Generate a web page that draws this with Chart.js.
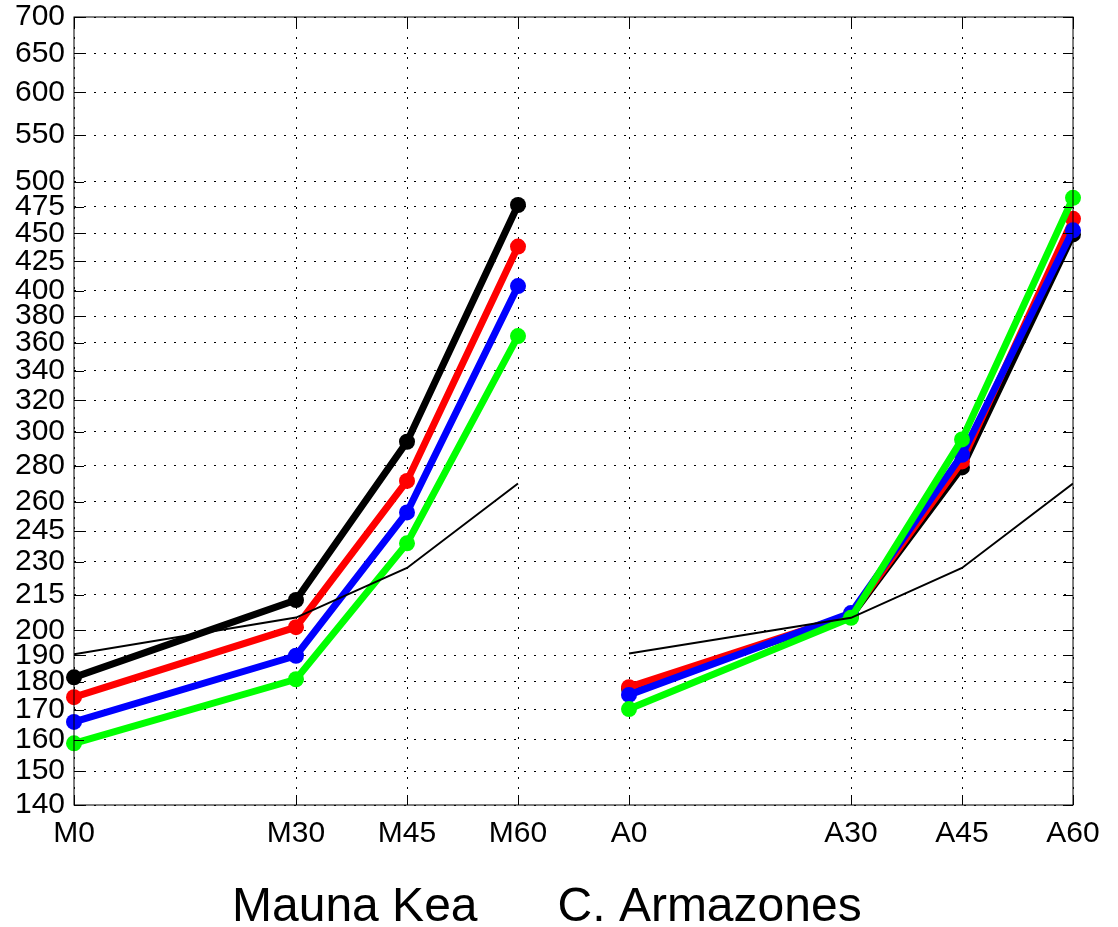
<!DOCTYPE html>
<html>
<head>
<meta charset="utf-8">
<script src="https://cdn.jsdelivr.net/npm/chart.js@4.4.1/dist/chart.umd.min.js"></script>
<style>
  html, body { margin: 0; padding: 0; background: #fff; }
  #wrap { width: 1118px; height: 927px; position: relative; }
</style>
</head>
<body>
<div id="wrap"><canvas id="chart"></canvas></div>
<script>
// x positions (zenith angle, the two sites laid side by side) and their labels
const tickPositions = [0, 30, 45, 60, 75, 105, 120, 135];
const siteLabels = ['M0', 'M30', 'M45', 'M60', 'A0', 'A30', 'A45', 'A60'];
const yTicks = [140, 150, 160, 170, 180, 190, 200, 215, 230, 245, 260, 280, 300,
  320, 340, 360, 380, 400, 425, 450, 475, 500, 550, 600, 650, 700];

// series values, Mauna Kea first four, C. Armazones last four
const blackValues = [181.7, 212.8, 294, 476.8, 177.5, 205.8, 279, 449];
const redValues = [174.5, 201.3, 271.4, 438, 178.1, 206.4, 282.4, 463.5];
const blueValues = [165.9, 189.9, 254.5, 404, 175.3, 207.2, 286.3, 452.8];
const greenValues = [158.8, 181.0, 238.9, 364.8, 170.3, 205.2, 295.4, 483.8];
const thinValues = [190.5, 205.3, 227.2, 270, 190.8, 205.2, 227.2, 270];

const titleText = 'Mauna Kea      C. Armazones    ';

function toPoints(values) {
  const pts = tickPositions.map((x, i) => ({x: x, y: values[i]}));
  // break the line between the two sites
  pts.splice(4, 0, {x: 67.5, y: null});
  return pts;
}

function thickLine(values, color, order) {
  return {
    data: toPoints(values),
    borderColor: color,
    backgroundColor: color,
    borderWidth: 7,
    pointRadius: 8,
    pointBorderWidth: 0,
    pointBackgroundColor: color,
    spanGaps: false,
    clip: false,
    order: order
  };
}

const frame = {
  id: 'frame',
  afterDraw(chart) {
    const {ctx, chartArea: a, scales} = chart;
    ctx.save();
    ctx.strokeStyle = '#000';
    ctx.lineWidth = 1;
    ctx.beginPath();
    // inside tick marks
    yTicks.forEach(v => {
      const y = Math.round(scales.y.getPixelForValue(v)) + 0.5;
      ctx.moveTo(a.left, y); ctx.lineTo(a.left + 10, y);
      ctx.moveTo(a.right, y); ctx.lineTo(a.right - 10, y);
    });
    tickPositions.forEach(v => {
      const x = Math.round(scales.x.getPixelForValue(v)) + 0.5;
      ctx.moveTo(x, a.bottom); ctx.lineTo(x, a.bottom - 10);
      ctx.moveTo(x, a.top); ctx.lineTo(x, a.top + 10);
    });
    ctx.stroke();
    ctx.strokeRect(a.left, a.top, a.right - a.left, a.bottom - a.top);
    ctx.restore();
  }
};

const fontFamily = '"Liberation Sans", Arial, sans-serif';

new Chart(document.getElementById('chart').getContext('2d'), {
  type: 'line',
  data: {
    datasets: [
      {
        data: toPoints(thinValues),
        borderColor: '#000',
        borderWidth: 2,
        pointRadius: 0,
        spanGaps: false,
        order: 0
      },
      thickLine(greenValues, '#00ff00', 1),
      thickLine(blueValues, '#0000ff', 2),
      thickLine(redValues, '#ff0000', 3),
      thickLine(blackValues, '#000000', 4)
    ]
  },
  options: {
    responsive: true,
    maintainAspectRatio: false,
    animation: false,
    layout: {padding: {left: 0, right: 45, top: 17, bottom: 0}},
    plugins: {legend: {display: false}, tooltip: {enabled: false}},
    scales: {
      x: {
        type: 'linear',
        min: 0,
        max: 135,
        afterBuildTicks: scale => {
          scale.ticks = tickPositions.map(v => ({value: v}));
        },
        afterFit: scale => {
          scale.height = 122;
          scale.paddingLeft = 0;
          scale.paddingRight = 0;
        },
        ticks: {
          autoSkip: false,
          maxRotation: 0,
          padding: 11,
          color: '#000',
          font: {family: fontFamily, size: 30},
          callback: v => siteLabels[tickPositions.indexOf(v)]
        },
        grid: {color: '#000', lineWidth: 1, drawTicks: false},
        border: {display: false, dash: [2, 8]},
        title: {
          display: true,
          text: titleText,
          color: '#000',
          font: {family: fontFamily, size: 48, lineHeight: 0.8},
          padding: {top: 0, bottom: 0}
        }
      },
      y: {
        type: 'logarithmic',
        min: 140,
        max: 700,
        afterBuildTicks: scale => {
          scale.ticks = yTicks.map(v => ({value: v}));
        },
        afterFit: scale => {
          scale.width = 74;
          scale.paddingTop = 0;
          scale.paddingBottom = 0;
        },
        ticks: {
          autoSkip: false,
          padding: 9,
          color: '#000',
          font: {family: fontFamily, size: 30},
          callback: v => String(v)
        },
        grid: {color: '#000', lineWidth: 1, drawTicks: false},
        border: {display: false, dash: [2, 8]}
      }
    }
  },
  plugins: [frame]
});
</script>
</body>
</html>
